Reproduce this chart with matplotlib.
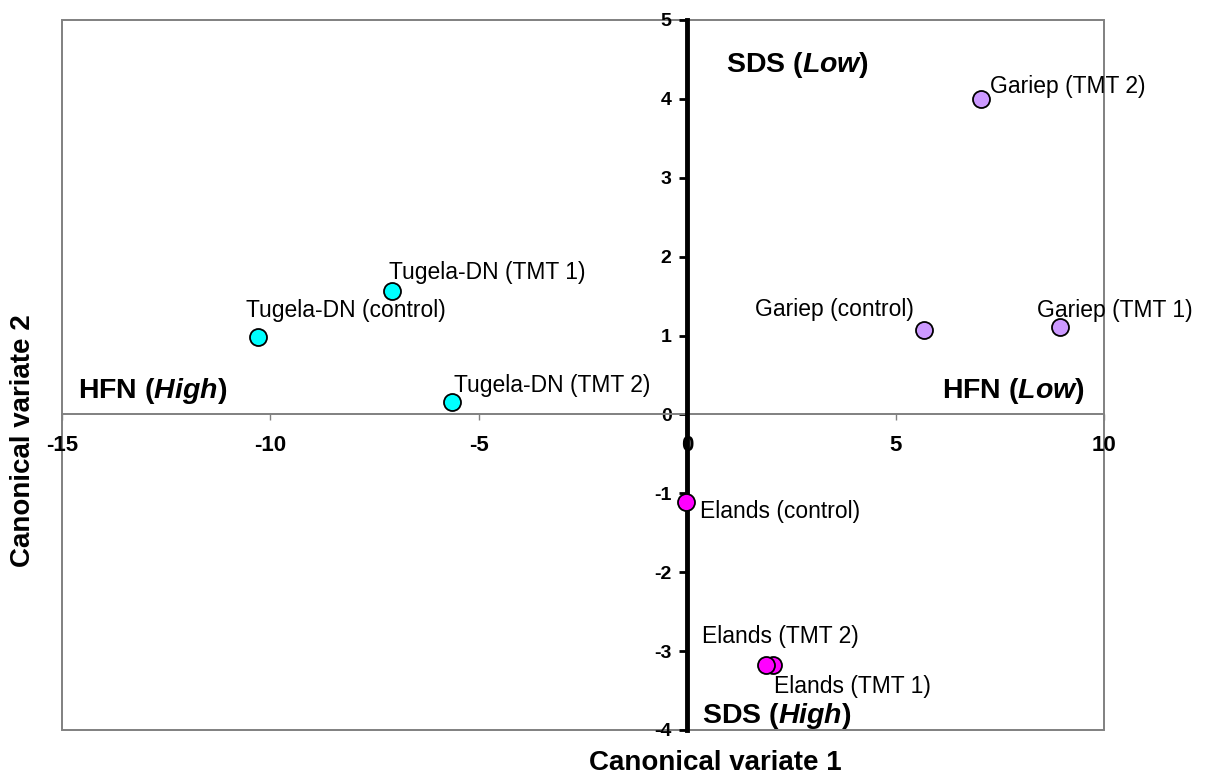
import matplotlib
matplotlib.use('Agg')
import matplotlib.pyplot as plt
from matplotlib.patches import Rectangle

plt.rcParams['font.family'] = ['Liberation Sans', 'DejaVu Sans']
plt.rcParams['axes.unicode_minus'] = False
plt.rcParams['mathtext.fontset'] = 'custom'
plt.rcParams['mathtext.rm'] = 'Liberation Sans:bold'
plt.rcParams['mathtext.it'] = 'Liberation Sans:italic:bold'
plt.rcParams['mathtext.bf'] = 'Liberation Sans:bold'

# canonical variate scores per group
tugela_labels = ['Tugela-DN (control)', 'Tugela-DN (TMT 1)', 'Tugela-DN (TMT 2)']
tugela_x = [-10.30, -7.08, -5.64]
tugela_y = [0.98, 1.57, 0.16]

gariep_labels = ['Gariep (control)', 'Gariep (TMT 1)', 'Gariep (TMT 2)']
gariep_x = [5.68, 8.95, 7.05]
gariep_y = [1.07, 1.11, 4.00]

elands_labels = ['Elands (control)', 'Elands (TMT 1)', 'Elands (TMT 2)']
elands_x = [-0.03, 2.06, 1.89]
elands_y = [-1.11, -3.18, -3.18]

xticks = [-15, -10, -5, 0, 5, 10]
yticks = [-4, -3, -2, -1, 0, 1, 2, 3, 4, 5]

# label offsets (points) and alignment for each point label
offsets = {
    'Tugela-DN (control)': (-8.6, 14.4, 'left'),
    'Tugela-DN (TMT 1)': (-2, 8.6, 'left'),
    'Tugela-DN (TMT 2)': (1.4, 7.2, 'left'),
    'Gariep (control)': (-7.6, 10, 'right'),
    'Gariep (TMT 1)': (-17, 7.2, 'left'),
    'Gariep (TMT 2)': (6.5, 4.3, 'left'),
    'Elands (control)': (10, -11.5, 'left'),
    'Elands (TMT 1)': (0.7, -20, 'left'),
    'Elands (TMT 2)': (-46, 16, 'left'),
}

fig = plt.figure(figsize=(12.13, 7.8), dpi=100)
ax = fig.add_axes([62 / 1213, 50 / 780, 1042 / 1213, 710 / 780])
ax.set_xlim(-15, 10)
ax.set_ylim(-4, 5)

# outer gray frame
ax.add_patch(Rectangle((0, 0), 1, 1, transform=ax.transAxes, fill=False,
                       ec='#808080', lw=1.4, clip_on=False, zorder=1))

ax.spines['top'].set_visible(False)
ax.spines['right'].set_visible(False)
ax.spines['bottom'].set_position(('data', 0))
ax.spines['bottom'].set_color('#808080')
ax.spines['bottom'].set_linewidth(1.4)
ax.spines['left'].set_position(('data', 0))
ax.spines['left'].set_color('black')
ax.spines['left'].set_linewidth(3.5)
ax.spines['left'].set_zorder(2.6)

ax.set_xticks(xticks)
ax.set_yticks(yticks)
ax.tick_params(axis='x', direction='out', length=4.5, width=1, color='#808080',
               labelsize=16, pad=10)
ax.tick_params(axis='y', direction='out', length=5.8, width=2, color='black',
               labelsize=14, pad=5.5)
for lab in ax.get_xticklabels() + ax.get_yticklabels():
    lab.set_fontweight('bold')

groups = [
    (tugela_x, tugela_y, tugela_labels, '#00FFFF'),
    (gariep_x, gariep_y, gariep_labels, '#CC99FF'),
    (elands_x, elands_y, elands_labels, '#FF00FF'),
]
for xs, ys, labels, col in groups:
    ax.scatter(xs, ys, s=150, c=col, edgecolors='black', linewidths=1.3,
               zorder=3, clip_on=False)
    for x, y, lab in zip(xs, ys, labels):
        dx, dy, ha = offsets[lab]
        ax.annotate(lab, (x, y), xytext=(dx, dy), textcoords='offset points',
                    ha=ha, va='baseline', fontsize=16.5, zorder=4)

# quadrant descriptors
ax.text(-14.62, 0.21, r'HFN ($\mathit{High}$)', fontsize=20.5, fontweight='bold',
        ha='left', va='baseline')
ax.text(6.11, 0.21, r'HFN ($\mathit{Low}$)', fontsize=20.5, fontweight='bold',
        ha='left', va='baseline')
ax.text(0.93, 4.34, r'SDS ($\mathit{Low}$)', fontsize=20.5, fontweight='bold',
        ha='left', va='baseline')
ax.text(0.355, -3.91, r'SDS ($\mathit{High}$)', fontsize=20.5, fontweight='bold',
        ha='left', va='baseline', clip_on=True)

ax.set_xlabel('Canonical variate 1', fontsize=20, fontweight='bold')
ax.set_ylabel('Canonical variate 2', fontsize=20, fontweight='bold')
ax.xaxis.label.set_va('center')
ax.yaxis.label.set_va('center')
ax.xaxis.set_label_coords((715 - 62) / 1042, (730 - 763) / 710)
ax.yaxis.set_label_coords((23 - 62) / 1042, (730 - 441) / 710)

fig.savefig('out.png', dpi=100)
